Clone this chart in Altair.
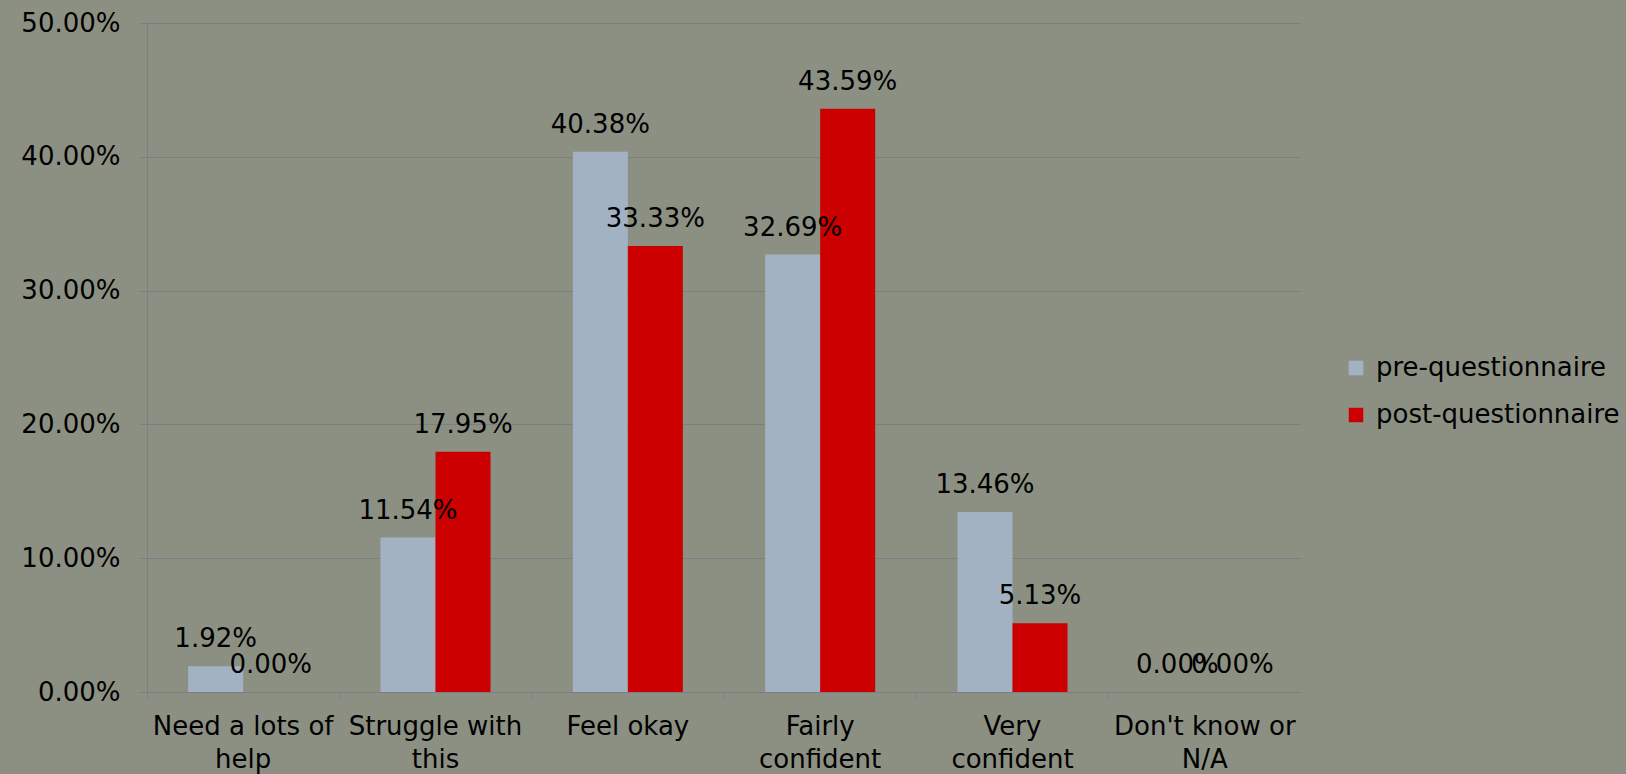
import json
import altair as alt
import pandas as pd

# Survey answers (categories) and the share of respondents per questionnaire
categories = [
    "Need a lots of help",
    "Struggle with this",
    "Feel okay",
    "Fairly confident",
    "Very confident",
    "Don't know or N/A",
]
# how each category label is broken onto lines under the axis
category_lines = [
    ["Need a lots of", "help"],
    ["Struggle with", "this"],
    ["Feel okay"],
    ["Fairly", "confident"],
    ["Very", "confident"],
    ["Don't know or", "N/A"],
]
series = ["pre-questionnaire", "post-questionnaire"]
pre_values = [0.0192, 0.1154, 0.4038, 0.3269, 0.1346, 0.0]
post_values = [0.0, 0.1795, 0.3333, 0.4359, 0.0513, 0.0]
y_ticks = [0.0, 0.1, 0.2, 0.3, 0.4, 0.5]

colors = ["#A3B2C3", "#CC0000"]
background = "#8C9083"
grid_color = "#7C7E86"
font = "DejaVu Sans"
font_size = 26

rows = []
for cat, pre, post in zip(categories, pre_values, post_values):
    rows.append({"category": cat, "series": series[0], "value": pre})
    rows.append({"category": cat, "series": series[1], "value": post})
df = pd.DataFrame(rows)

plot_w, plot_h = 1154, 669

label_expr = "(" + json.dumps(dict(zip(categories, category_lines))) + ")[datum.value]"

x_enc = alt.X(
    "category:N",
    sort=categories,
    scale=alt.Scale(paddingInner=0, paddingOuter=0),
    axis=alt.Axis(
        title=None,
        labelAngle=0,
        bandPosition=0,
        labelExpr=label_expr,
        labelLineHeight=33,
        labelPadding=14,
        labelBaseline="top",
        labelFont=font,
        labelFontSize=font_size,
        labelColor="#000000",
        labelLimit=400,
        domainColor=grid_color,
        tickColor=grid_color,
        tickSize=7,
        grid=False,
    ),
)
xoff_enc = alt.XOffset(
    "series:N",
    sort=series,
    scale=alt.Scale(paddingInner=0, paddingOuter=0.748),
)
y_enc = alt.Y(
    "value:Q",
    scale=alt.Scale(domain=[0, 0.5], nice=False),
    axis=alt.Axis(
        title=None,
        values=y_ticks,
        format=".2%",
        labelFont=font,
        labelFontSize=font_size,
        labelColor="#000000",
        labelPadding=19,
        gridColor=grid_color,
        domainColor=grid_color,
        tickColor=grid_color,
        tickSize=8,
    ),
)

bars = alt.Chart(df).mark_bar().encode(
    x=x_enc,
    xOffset=xoff_enc,
    y=y_enc,
    color=alt.Color(
        "series:N",
        sort=series,
        scale=alt.Scale(domain=series, range=colors),
        legend=alt.Legend(
            title=None,
            orient="none",
            legendX=1196,
            legendY=332,
            symbolType="square",
            symbolSize=210,
            symbolStrokeWidth=0,
            labelFont=font,
            labelFontSize=font_size,
            labelColor="#000000",
            labelOffset=7,
            labelLimit=400,
            rowPadding=21,
            padding=0,
        ),
    ),
)

labels = alt.Chart(df).mark_text(
    font=font,
    fontSize=font_size,
    color="#000000",
    baseline="alphabetic",
    align="center",
    dy=-19,
).encode(
    x=alt.X("category:N", sort=categories),
    xOffset=alt.XOffset("series:N", sort=series),
    y=alt.Y("value:Q"),
    text=alt.Text("value:Q", format=".2%"),
)

chart = (
    alt.layer(bars, labels)
    .properties(
        width=plot_w,
        height=plot_h,
        autosize=alt.AutoSizeParams(type="none"),
        padding={"left": 147, "top": 23, "right": 325, "bottom": 82},
        background=background,
    )
    .configure_view(stroke=None)
)

chart.save("out.html", embed_options={"renderer": "svg", "actions": False})
